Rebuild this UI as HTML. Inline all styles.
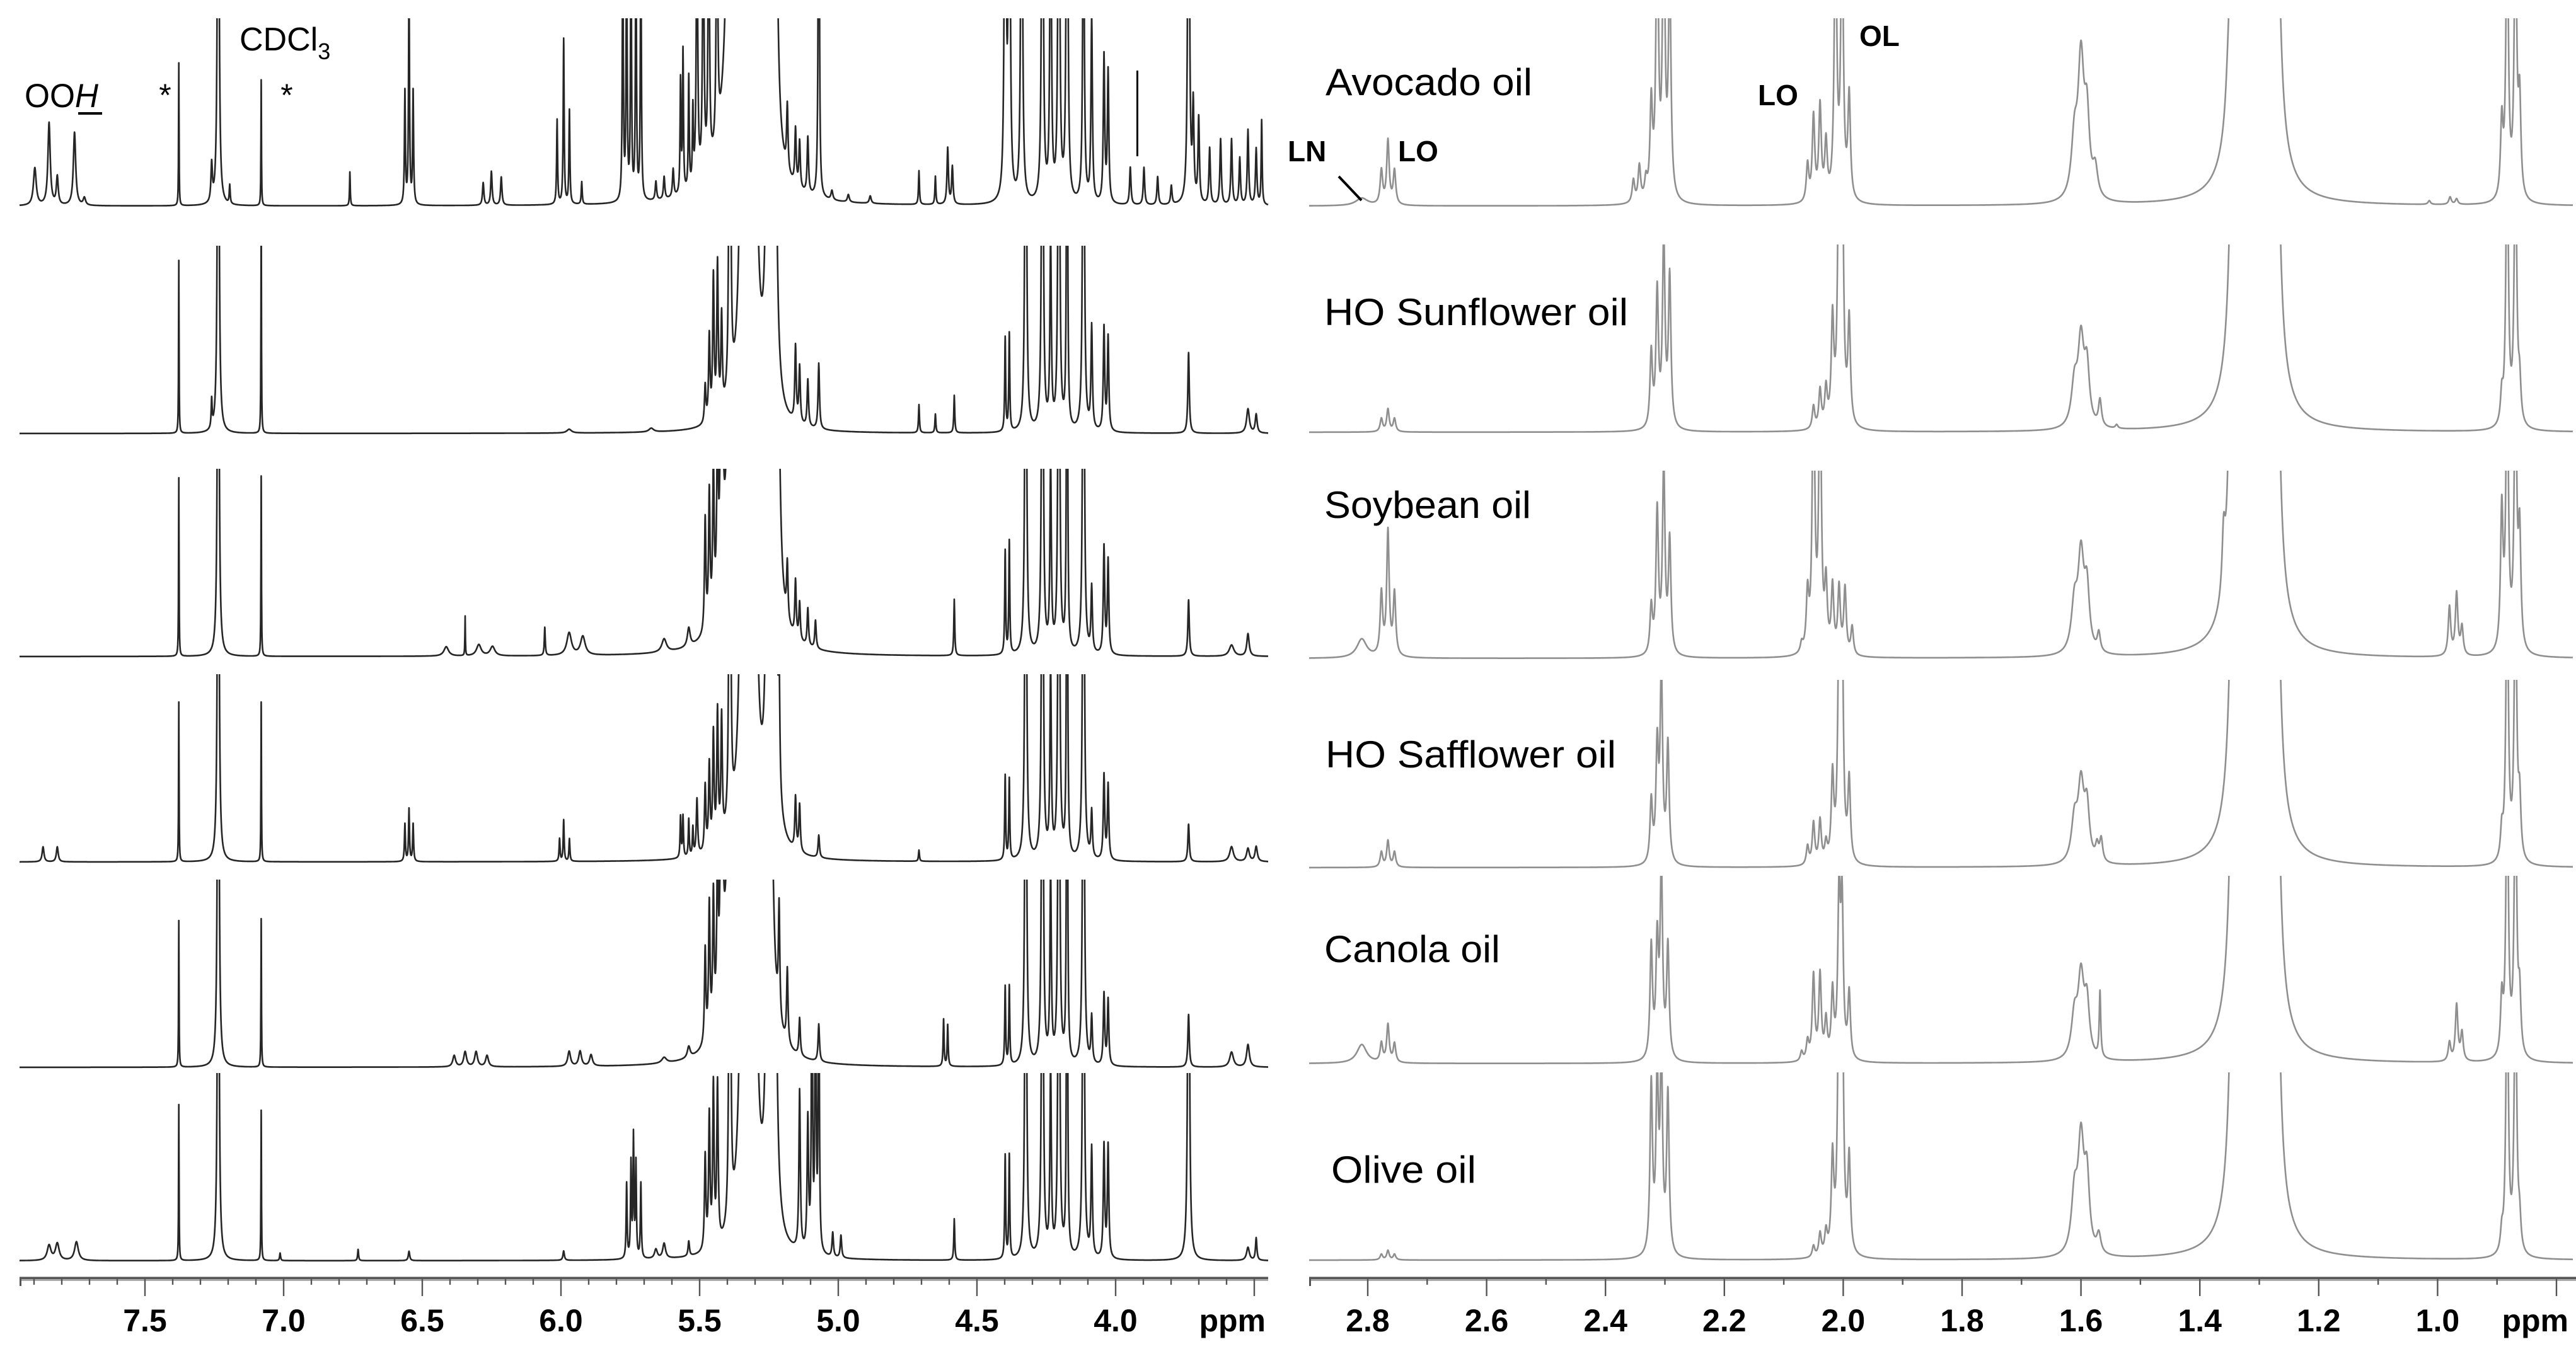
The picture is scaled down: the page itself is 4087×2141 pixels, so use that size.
<!DOCTYPE html>
<html><head><meta charset="utf-8"><title>NMR spectra of edible oils</title>
<style>
html,body{margin:0;padding:0;background:#fff;}
svg{display:block;}
text{font-family:"Liberation Sans",Arial,sans-serif;}
</style></head>
<body>
<svg id="chart" xmlns="http://www.w3.org/2000/svg" width="4087" height="2141" viewBox="0 0 4087 2141">
<rect x="0" y="0" width="4087" height="2141" fill="#fff"/>
<g id="clips"></g>
<g id="left-panel"></g>
<g id="right-panel"></g>
<g id="axes"></g>
<text x="39" y="170" font-size="53" textLength="117" lengthAdjust="spacingAndGlyphs">OO<tspan font-style="italic">H</tspan></text>
<rect x="124" y="178" width="38" height="4" fill="#000"/>
<text x="262" y="168" font-size="50" text-anchor="middle">*</text>
<text x="380" y="80" font-size="52">CDCl<tspan font-size="36" dy="14">3</tspan></text>
<text x="455" y="168" font-size="50" text-anchor="middle">*</text>
<rect x="1803" y="112" width="3" height="136" fill="#000"/>
<text x="2043" y="256" font-size="46" font-weight="bold">LN</text>
<line x1="2124" y1="280" x2="2160" y2="318" stroke="#000" stroke-width="4"/>
<text x="2218" y="256" font-size="46" font-weight="bold">LO</text>
<text x="2789" y="167" font-size="46" font-weight="bold">LO</text>
<text x="2950" y="73" font-size="46" font-weight="bold">OL</text>
<text x="2103" y="151" font-size="60" textLength="328" lengthAdjust="spacingAndGlyphs">Avocado oil</text>
<text x="2101" y="516" font-size="60" textLength="482" lengthAdjust="spacingAndGlyphs">HO Sunflower oil</text>
<text x="2101" y="822" font-size="60" textLength="328" lengthAdjust="spacingAndGlyphs">Soybean oil</text>
<text x="2103" y="1218" font-size="60" textLength="461" lengthAdjust="spacingAndGlyphs">HO Safflower oil</text>
<text x="2101" y="1527" font-size="60" textLength="279" lengthAdjust="spacingAndGlyphs">Canola oil</text>
<text x="2112" y="1877" font-size="60" textLength="230" lengthAdjust="spacingAndGlyphs">Olive oil</text>
</svg>
<script>
// ---------- data: peaks [ppm (as read), relative height (1 = clip), half-width ppm] ----------
const leftTickValues = [7.5,7.0,6.5,6.0,5.5,5.0,4.5,4.0];
const leftTickLabels = ["7.5","7.0","6.5","6.0","5.5","5.0","4.5","4.0"];
const rightTickValues = [2.8,2.6,2.4,2.2,2.0,1.8,1.6,1.4,1.2,1.0];
const rightTickLabels = ["2.8","2.6","2.4","2.2","2.0","1.8","1.6","1.4","1.2","1.0"];

const glycerolClipped = [[4.332,3,0.003],[4.271,3,0.003],[4.241,1,0.003],[4.211,3,0.003],[4.181,3,0.002],[4.121,3,0.003]];

const leftRow1 = [[7.952,0.2,0.006],[7.900,0.44,0.005],[7.870,0.15,0.004],[7.807,0.39,0.005],[7.771,0.04,0.005],
[7.426,0.76,0.001],[7.306,0.2,0.003],[7.282,3,0.003],[7.24,0.1,0.002],[7.125,0.67,0.001],
[6.801,0.18,0.0015],[6.60,0.6,0.002],[6.585,1.2,0.002],[6.57,0.6,0.002],
[6.314,0.12,0.003],[6.284,0.18,0.003],[6.248,0.15,0.003],
[6.044,0.45,0.002],[6.020,0.88,0.002],[5.999,0.5,0.002],[5.954,0.12,0.002],
[5.804,1.5,0.002],[5.79,1.5,0.002],[5.774,1.5,0.002],[5.756,1.5,0.002],[5.738,1.5,0.002],
[5.683,0.1,0.003],[5.653,0.12,0.003],[5.62,0.15,0.003],[5.593,0.6,0.002],[5.584,0.75,0.002],[5.563,0.6,0.002],[5.548,0.4,0.002],
[5.533,1.5,0.003],[5.51,1.5,0.003],[5.49,1.5,0.003],[5.46,1.5,0.003],
[5.40,8,0.01],[5.36,8,0.01],[5.33,8,0.008],[5.27,6,0.006],[5.25,4,0.006],
[5.203,0.35,0.003],[5.173,0.3,0.003],[5.158,0.25,0.003],[5.128,0.3,0.003],[5.088,3,0.002],
[5.04,0.05,0.004],[4.98,0.04,0.004],[4.90,0.04,0.004],
[4.722,0.18,0.002],[4.662,0.15,0.002],[4.617,0.3,0.003],[4.60,0.2,0.003],
[4.407,3,0.003],[4.392,3,0.003],[4.347,3,0.003],[4.271,3,0.003],[4.241,2,0.003],[4.211,3,0.003],[4.181,3,0.003],[4.121,2,0.003],
[4.091,1,0.003],[4.046,0.78,0.003],[4.031,0.7,0.003],
[3.95,0.2,0.003],[3.90,0.2,0.003],[3.85,0.15,0.003],[3.80,0.1,0.003],
[3.737,3,0.003],[3.72,0.5,0.003],[3.70,0.45,0.003],[3.66,0.3,0.003],[3.62,0.35,0.003],[3.58,0.35,0.003],[3.55,0.25,0.003],[3.52,0.4,0.003],[3.49,0.3,0.003],[3.47,0.45,0.002]];

const leftRow2 = [[7.426,0.92,0.001],[7.306,0.15,0.002],[7.282,3,0.003],[7.125,1.2,0.001],
[6.0,0.02,0.01],[5.70,0.02,0.01],
[5.503,0.2,0.003],[5.488,0.45,0.003],[5.473,0.75,0.003],[5.458,0.8,0.003],[5.443,0.5,0.003],[5.413,3,0.003],
[5.36,6,0.008],[5.33,6,0.008],[5.27,5,0.006],[5.25,3,0.006],
[5.173,0.4,0.003],[5.158,0.3,0.003],[5.128,0.25,0.003],[5.088,0.35,0.003],
[4.722,0.15,0.002],[4.662,0.1,0.002],[4.593,0.2,0.002],
[4.407,0.5,0.002],[4.392,0.52,0.002],
[4.091,0.55,0.003],[4.046,0.55,0.003],[4.031,0.5,0.003],
[3.737,0.43,0.003],[3.52,0.13,0.006],[3.49,0.1,0.004]];

const leftRow3 = [[7.426,0.95,0.001],[7.282,3,0.003],[7.125,0.96,0.001],
[6.449,0.05,0.01],[6.38,0.21,0.001],[6.33,0.06,0.01],[6.28,0.05,0.01],
[6.089,0.15,0.002],[6.0,0.12,0.01],[5.95,0.1,0.01],
[5.653,0.07,0.01],[5.563,0.1,0.006],
[5.503,0.6,0.003],[5.488,0.7,0.003],[5.473,0.8,0.003],[5.458,0.9,0.003],[5.443,3,0.003],
[5.40,6,0.01],[5.36,6,0.01],[5.32,4,0.01],[5.27,4,0.008],[5.24,2,0.008],
[5.203,0.3,0.003],[5.173,0.3,0.003],[5.158,0.2,0.003],[5.128,0.2,0.003],[5.10,0.15,0.003],
[4.593,0.3,0.002],
[4.407,0.55,0.002],[4.392,0.6,0.002],
[4.091,0.35,0.003],[4.046,0.57,0.003],[4.031,0.5,0.003],
[3.737,0.3,0.003],[3.58,0.06,0.01],[3.52,0.12,0.005]];

const leftRow4 = [[7.922,0.08,0.004],[7.870,0.08,0.004],
[7.426,0.85,0.001],[7.282,3,0.003],[7.125,0.85,0.001],
[6.60,0.2,0.002],[6.585,0.28,0.002],[6.57,0.2,0.002],
[6.035,0.12,0.002],[6.020,0.22,0.002],[5.999,0.12,0.002],
[5.593,0.22,0.002],[5.584,0.22,0.002],[5.563,0.2,0.002],[5.548,0.15,0.002],
[5.533,0.3,0.003],[5.503,0.35,0.003],[5.488,0.45,0.003],[5.473,0.6,0.003],[5.458,0.7,0.003],[5.443,0.65,0.003],[5.413,3,0.003],
[5.36,6,0.008],[5.33,6,0.008],[5.27,5,0.006],[5.25,3,0.006],
[5.233,0.6,0.003],[5.173,0.28,0.003],[5.158,0.25,0.003],[5.088,0.12,0.003],
[4.722,0.06,0.002],
[4.407,0.45,0.002],[4.392,0.43,0.002],
[4.091,0.25,0.003],[4.046,0.45,0.003],[4.031,0.4,0.003],
[3.737,0.2,0.003],[3.58,0.08,0.008],[3.52,0.07,0.006],[3.49,0.08,0.005]];

const leftRow5 = [[7.426,0.78,0.001],[7.282,3,0.003],[7.125,0.79,0.001],
[6.42,0.06,0.006],[6.38,0.08,0.006],[6.34,0.08,0.006],[6.30,0.06,0.006],
[6.0,0.08,0.006],[5.96,0.08,0.006],[5.92,0.06,0.006],
[5.653,0.03,0.01],[5.563,0.06,0.006],
[5.503,0.5,0.003],[5.488,0.7,0.003],[5.473,0.7,0.003],[5.458,0.8,0.003],[5.443,3,0.003],
[5.40,6,0.01],[5.36,6,0.01],[5.32,4,0.01],[5.27,4,0.008],
[5.233,0.6,0.003],[5.203,0.4,0.003],[5.158,0.2,0.003],[5.088,0.2,0.003],
[4.632,0.25,0.002],[4.617,0.22,0.002],
[4.407,0.42,0.002],[4.392,0.42,0.002],
[4.091,0.25,0.003],[4.046,0.38,0.003],[4.031,0.35,0.003],
[3.737,0.28,0.003],[3.58,0.08,0.008],[3.52,0.12,0.006]];

const leftRow6 = [[7.90,0.08,0.008],[7.87,0.09,0.008],[7.80,0.1,0.008],
[7.426,0.83,0.001],[7.282,3,0.003],[7.125,0.8,0.001],
[7.056,0.04,0.002],[6.771,0.06,0.002],[6.585,0.05,0.003],[6.02,0.05,0.003],
[5.79,0.4,0.002],[5.774,0.5,0.002],[5.765,0.64,0.002],[5.756,0.5,0.002],[5.738,0.4,0.002],
[5.683,0.05,0.006],[5.653,0.08,0.006],[5.563,0.08,0.003],
[5.503,0.5,0.003],[5.488,0.7,0.003],[5.473,0.85,0.003],[5.458,0.85,0.003],[5.413,3,0.003],
[5.36,6,0.008],[5.33,6,0.008],[5.27,5,0.006],[5.25,3,0.006],
[5.158,0.85,0.003],[5.128,0.7,0.003],[5.113,2,0.002],[5.10,2,0.002],[5.088,2,0.002],
[5.037,0.13,0.003],[5.007,0.12,0.003],
[4.593,0.22,0.002],
[4.407,0.55,0.002],[4.392,0.55,0.002],
[4.091,0.58,0.003],[4.046,0.6,0.003],[4.031,0.6,0.003],
[3.737,3,0.003],[3.52,0.07,0.006],[3.49,0.12,0.003]];

const methyleneBand = [[1.340,4,0.005],[1.327,4,0.005],[1.314,4,0.005],[1.301,4,0.005],[1.288,4,0.005],[1.275,4,0.005]];

const avocadoPeaks = [[2.83,0.04,0.012],[2.797,0.18],[2.786,0.34],[2.775,0.18],
[2.373,0.12],[2.363,0.19],[2.352,0.1],
[2.343,0.5],[2.333,1.5],[2.322,1.5],[2.312,1.2],
[2.080,0.2],[2.070,0.45],[2.059,0.5],[2.049,0.3],
[2.033,1.5],[2.022,1.5],[2.010,0.55],
[1.631,0.3,0.006],[1.620,0.72,0.006],[1.610,0.4,0.005],[1.596,0.15,0.005],
[1.373,0.08,0.004],[1.034,0.02],[0.999,0.04],[0.988,0.03],
[0.912,0.4],[0.903,1.5],[0.889,1.5],[0.882,0.5]];

const sunflowerPeaks = [[2.797,0.07],[2.786,0.12],[2.775,0.07],
[2.343,0.4],[2.333,0.72],[2.322,1.0],[2.312,0.8],
[2.070,0.12],[2.059,0.2],[2.049,0.2],
[2.038,0.55],[2.027,1.5],[2.022,1.5],[2.010,0.55],
[1.631,0.22,0.006],[1.620,0.45,0.006],[1.610,0.3,0.005],[1.588,0.14,0.003],[1.560,0.02],
[0.912,0.15],[0.903,1.5],[0.889,1.5],[0.882,0.2]];

const soybeanPeaks = [[2.83,0.1,0.01],[2.797,0.33],[2.786,0.66],[2.775,0.33],
[2.343,0.25],[2.333,0.76],[2.322,1.0],[2.312,0.6],
[2.090,0.05],[2.080,0.3],[2.070,1.5],[2.059,1.5],[2.049,0.35],[2.038,0.35],[2.027,0.35],[2.017,0.35],[2.005,0.15],
[1.631,0.25,0.006],[1.620,0.5,0.006],[1.610,0.32,0.005],[1.590,0.1,0.003],
[1.38,0.3,0.003],[1.37,0.35,0.003],[1.36,0.3,0.003],
[1.0,0.26],[0.988,0.33],[0.979,0.15],
[0.912,0.74],[0.903,1.5],[0.889,1.5],[0.882,0.6]];

const safflowerPeaks = [[2.797,0.08],[2.786,0.14],[2.775,0.08],
[2.343,0.33],[2.333,0.6],[2.326,1.0],[2.315,0.63],
[2.080,0.1],[2.070,0.22],[2.059,0.23],[2.049,0.1],
[2.038,0.45],[2.027,1.2],[2.022,1.2],[2.010,0.43],
[1.631,0.22,0.006],[1.620,0.4,0.006],[1.610,0.28,0.005],[1.593,0.08,0.003],[1.586,0.12,0.003],
[0.912,0.15],[0.903,1.5],[0.889,1.5],[0.882,0.3]];

const canolaPeaks = [[2.83,0.1,0.01],[2.797,0.1],[2.786,0.2],[2.775,0.1],
[2.343,0.6],[2.333,0.6],[2.326,1.0],[2.315,0.6],
[2.090,0.05],[2.080,0.1],[2.070,0.45],[2.059,0.45],[2.049,0.2],
[2.038,0.35],[2.027,0.85],[2.022,0.8],[2.010,0.35],
[1.631,0.22,0.006],[1.620,0.42,0.006],[1.610,0.28,0.005],[1.588,0.35,0.0015],
[1.0,0.1],[0.988,0.3],[0.979,0.15],
[0.912,0.3],[0.903,1.5],[0.889,1.5],[0.882,0.3]];

const olivePeaks = [[2.797,0.03],[2.786,0.05],[2.775,0.03],
[2.343,0.9],[2.333,0.9],[2.326,1.0],[2.315,0.85],
[2.070,0.06],[2.059,0.12],[2.049,0.12],
[2.038,0.5],[2.027,1.5],[2.022,1.5],[2.010,0.5],
[1.631,0.3,0.006],[1.620,0.58,0.006],[1.610,0.38,0.005],[1.590,0.1,0.004],
[0.912,0.1],[0.903,1.5],[0.889,1.5],[0.882,0.15]];

// chemical-shift referencing corrections applied to read-off positions
const leftRefSlope = 0.013;
const rightRefOffset = 0.02;

// ---------- layout ----------
const SVGNS = "http://www.w3.org/2000/svg";
const leftG = document.getElementById('left-panel');
const rightG = document.getElementById('right-panel');
const axesG = document.getElementById('axes');
const clipsG = document.getElementById('clips');

function xLeft(ppm){ return 1990 + (3.5 - ppm) * 440; }
function xRight(ppm){ return 2170 + (2.8 - ppm) * 943; }
const ROW_H = 298;

function refLeft(peaks){ return peaks.map(p => [p[0] - leftRefSlope * (p[0] - 3.73), p[1], p[2]]); }
function refRight(peaks){ return peaks.map(p => [p[0] - rightRefOffset, p[1], p[2]]); }

function spectrum(peaks, p, defW){
  let s = 0;
  for (const pk of peaks){
    const g = pk[2] || defW;
    const d = p - pk[0];
    s += pk[1] * g * g / (g * g + d * d);
  }
  return s;
}

let clipId = 0;
function drawRow(group, peaks, xFn, x0, x1, baseline, defW, color, width, name){
  clipId++;
  const cp = document.createElementNS(SVGNS, 'clipPath');
  cp.setAttribute('id', 'clip' + clipId);
  const cr = document.createElementNS(SVGNS, 'rect');
  cr.setAttribute('x', x0 - 2); cr.setAttribute('y', baseline - ROW_H);
  cr.setAttribute('width', x1 - x0 + 4); cr.setAttribute('height', ROW_H + 40);
  cp.appendChild(cr); clipsG.appendChild(cp);
  const a = xFn(0), b = xFn(1);
  const pFromX = x => (x - a) / (b - a);
  const xs = [];
  for (let x = x0; x <= x1; x += 0.5) xs.push(x);
  for (const pk of peaks){ const px = xFn(pk[0]); if (px >= x0 && px <= x1) xs.push(px); }
  xs.sort((u, v) => u - v);
  let d = '';
  xs.forEach((x, i) => {
    const v = spectrum(peaks, pFromX(x), defW);
    const y = baseline - v * ROW_H;
    d += (i ? 'L' : 'M') + x.toFixed(1) + ' ' + Math.max(y, -500).toFixed(1);
  });
  const path = document.createElementNS(SVGNS, 'path');
  path.setAttribute('d', d);
  path.setAttribute('fill', 'none');
  path.setAttribute('stroke', color);
  path.setAttribute('stroke-width', width);
  path.setAttribute('stroke-linejoin', 'round');
  path.setAttribute('clip-path', 'url(#clip' + clipId + ')');
  
  
  group.appendChild(path);
}

const leftRows = [leftRow1, leftRow2, leftRow3, leftRow4, leftRow5, leftRow6];
const leftBase = [327, 688, 1042, 1368, 1694, 2001];
const leftNames = ['spectrum-left-avocado','spectrum-left-sunflower','spectrum-left-soybean','spectrum-left-safflower','spectrum-left-canola','spectrum-left-olive'];
leftRows.forEach((pk, i) => {
  const all = (i === 0) ? pk : pk.concat(glycerolClipped);
  drawRow(leftG, refLeft(all), xLeft, 31, 2012, leftBase[i], 0.0015, '#262626', 2.6, leftNames[i]);
});

const rightRows = [avocadoPeaks, sunflowerPeaks, soybeanPeaks, safflowerPeaks, canolaPeaks, olivePeaks];
const rightBase = [327, 686, 1045, 1377, 1688, 2000];
const rightNames = ['spectrum-avocado','spectrum-ho-sunflower','spectrum-soybean','spectrum-ho-safflower','spectrum-canola','spectrum-olive'];
rightRows.forEach((pk, i) => {
  drawRow(rightG, refRight(pk).concat(methyleneBand), xRight, 2077, 4082, rightBase[i], 0.0025, '#8f8f8f', 2.6, rightNames[i]);
});

// ---------- axes ----------
function addRect(x, y, w, h, fill, name){
  const r = document.createElementNS(SVGNS, 'rect');
  r.setAttribute('x', x); r.setAttribute('y', y); r.setAttribute('width', w); r.setAttribute('height', h);
  r.setAttribute('fill', fill);
  
  
  axesG.appendChild(r);
}
function addText(x, y, str, name, anchor){
  const t = document.createElementNS(SVGNS, 'text');
  t.setAttribute('x', x); t.setAttribute('y', y);
  t.setAttribute('font-size', 50); t.setAttribute('font-weight', 'bold');
  t.setAttribute('text-anchor', anchor || 'middle');
  t.textContent = str;
  
  
  axesG.appendChild(t);
}
const AXY = 2027;
addRect(31, AXY - 1, 1981, 7, '#a8a8a8', 'left-axis-band');
addRect(31, AXY, 1981, 3, '#555', 'left-axis-line');
addRect(2077, AXY - 1, 2010, 7, '#a8a8a8', 'right-axis-band');
addRect(2077, AXY, 2010, 3, '#555', 'right-axis-line');
addRect(31, AXY, 3, 14, '#555', 'left-axis-end');
addRect(2077, AXY, 3, 14, '#555', 'right-axis-end');

for (let k = 0; k <= 45; k++){
  const p = 7.9 - k * 0.1;
  const x = xLeft(p);
  if (x < 31 || x > 2012) continue;
  const major = Math.abs(p * 2 - Math.round(p * 2)) < 1e-6;
  addRect(x - 1.2, AXY, 2.4, major ? 30 : 12, '#555', major ? 'left-major-tick' : 'left-minor-tick');
}
for (let k = 0; k <= 22; k++){
  const p = 2.9 - k * 0.1;
  const x = xRight(p);
  if (x < 2077 || x > 4087) continue;
  const major = Math.abs(p * 5 - Math.round(p * 5)) < 1e-6;
  addRect(x - 1.2, AXY, 2.4, major ? 30 : 12, '#555', major ? 'right-major-tick' : 'right-minor-tick');
}
leftTickValues.forEach((v, i) => addText(xLeft(v), 2113, leftTickLabels[i], 'left-tick-label'));
rightTickValues.forEach((v, i) => addText(xRight(v), 2113, rightTickLabels[i], 'right-tick-label'));
addText(2008, 2113, 'ppm', 'left-axis-unit', 'end');
addText(4075, 2113, 'ppm', 'right-axis-unit', 'end');
</script>
</body></html>
